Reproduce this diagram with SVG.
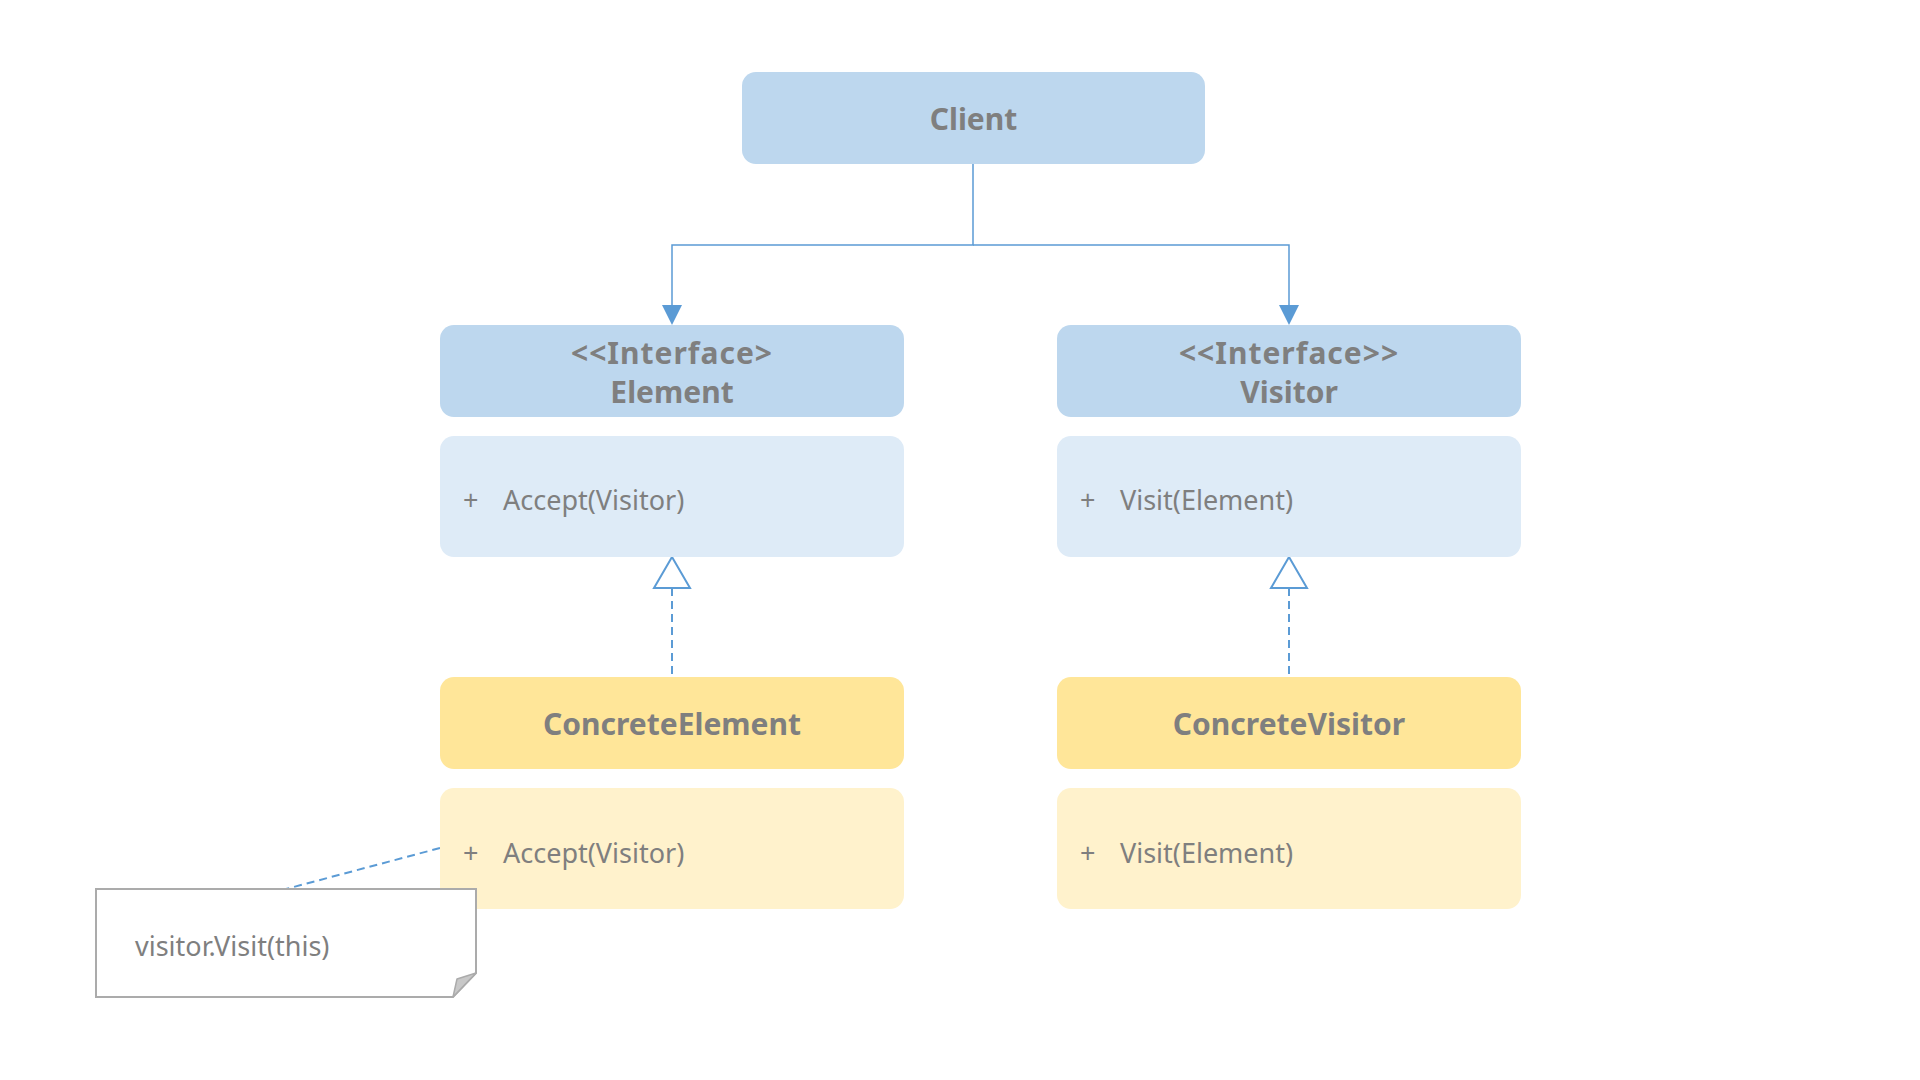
<svg xmlns="http://www.w3.org/2000/svg" width="1920" height="1080" viewBox="0 0 1920 1080">
<style>
.hdrB{fill:#BDD7EE}
.bodyB{fill:#DEEBF7}
.hdrY{fill:#FFE699}
.bodyY{fill:#FFF2CC}
.t{font-family:"Noto Sans","Open Sans","Liberation Sans",sans-serif;fill:#7F7F7F}
.b{font-weight:bold;font-size:30px;text-anchor:middle}
.m{font-size:27px}
.conn{fill:none;stroke:#5B9BD5;stroke-width:1.5}
.dash{fill:none;stroke:#5B9BD5;stroke-width:2;stroke-dasharray:8 5}
</style>
<rect width="1920" height="1080" fill="#FFFFFF"/>
<g id="connectors">
<path class="conn" d="M973,164 V245 H672 V305"/>
<path class="conn" d="M973,245 H1289 V305"/>
<path d="M662,305 L682,305 L672,325 Z" fill="#5B9BD5"/>
<path d="M1279,305 L1299,305 L1289,325 Z" fill="#5B9BD5"/>
<line class="dash" x1="672" y1="588" x2="672" y2="677"/>
<path d="M672,557 L690,588 L654,588 Z" fill="#FFFFFF" stroke="#5B9BD5" stroke-width="2"/>
<line class="dash" x1="1289" y1="588" x2="1289" y2="677"/>
<path d="M1289,557 L1307,588 L1271,588 Z" fill="#FFFFFF" stroke="#5B9BD5" stroke-width="2"/>
<line class="dash" x1="440" y1="848" x2="286" y2="889"/>
</g>
<g id="client">
<rect class="hdrB" x="742" y="72" width="463" height="92" rx="14"/>
<text class="t b" x="973.5" y="130" font-size="31">Client</text>
</g>
<g id="element">
<rect class="hdrB" x="440" y="325" width="464" height="92" rx="14"/>
<text class="t b" x="672" y="364" letter-spacing="1">&lt;&lt;Interface&gt;</text>
<text class="t b" x="672" y="403">Element</text>
<rect class="bodyB" x="440" y="436" width="464" height="121" rx="14"/>
<text class="t m" x="463" y="510">+</text>
<text class="t m" x="503" y="510">Accept(Visitor)</text>
</g>
<g id="visitor">
<rect class="hdrB" x="1057" y="325" width="464" height="92" rx="14"/>
<text class="t b" x="1289" y="364" letter-spacing="1">&lt;&lt;Interface&gt;&gt;</text>
<text class="t b" x="1289" y="403">Visitor</text>
<rect class="bodyB" x="1057" y="436" width="464" height="121" rx="14"/>
<text class="t m" x="1080" y="510">+</text>
<text class="t m" x="1120" y="510">Visit(Element)</text>
</g>
<g id="concreteElement">
<rect class="hdrY" x="440" y="677" width="464" height="92" rx="14"/>
<text class="t b" x="672" y="735">ConcreteElement</text>
<rect class="bodyY" x="440" y="788" width="464" height="121" rx="14"/>
<text class="t m" x="463" y="863">+</text>
<text class="t m" x="503" y="863">Accept(Visitor)</text>
</g>
<g id="concreteVisitor">
<rect class="hdrY" x="1057" y="677" width="464" height="92" rx="14"/>
<text class="t b" x="1289" y="735">ConcreteVisitor</text>
<rect class="bodyY" x="1057" y="788" width="464" height="121" rx="14"/>
<text class="t m" x="1080" y="863">+</text>
<text class="t m" x="1120" y="863">Visit(Element)</text>
</g>
<g id="note">
<path d="M96,889 H476 V973 L453,997 H96 Z" fill="#FFFFFF" stroke="#ABABAB" stroke-width="2"/>
<path d="M476,973 L457,979 L453,997 Z" fill="#C8C8C8" stroke="#ABABAB" stroke-width="1.5" stroke-linejoin="round"/>
<text class="t m" x="135" y="956">visitor.Visit(this)</text>
</g>
</svg>
